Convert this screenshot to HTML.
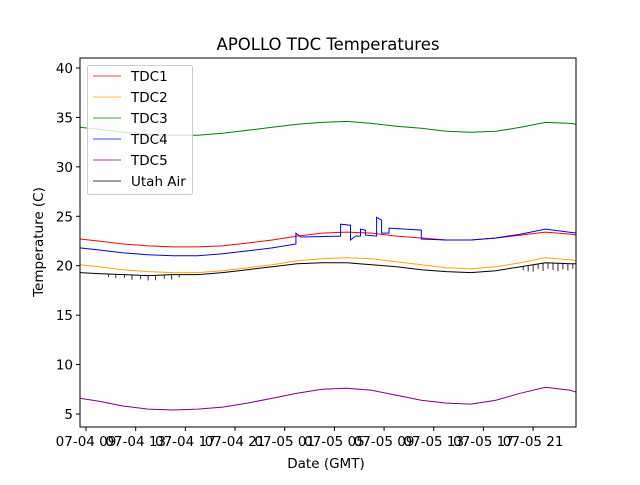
<!DOCTYPE html>
<html><head><meta charset="utf-8"><style>
body{margin:0;background:#fff}
svg text{font-family:"DejaVu Sans","Liberation Sans",sans-serif;fill:#000}
</style></head><body>
<svg id="chart" width="640" height="480" xmlns="http://www.w3.org/2000/svg">
<rect width="640" height="480" fill="#fff"/>
<text x="328" y="50" font-size="16.5" text-anchor="middle">APOLLO TDC Temperatures</text>
<g id="plot"></g>
<text x="326" y="468" font-size="13.5" text-anchor="middle">Date (GMT)</text>
<text transform="translate(43,242) rotate(-90)" font-size="13.5" text-anchor="middle">Temperature (C)</text>
</svg>
<script>
const hours=[-0.5,1,3,5,7,9,11,13,15,17,19,21,23,25,27,29,31,33,35,37,39,39.5];
const tdc1=[22.7,22.5,22.2,22.0,21.9,21.9,22.0,22.3,22.6,23.0,23.3,23.4,23.3,23.0,22.8,22.6,22.6,22.8,23.1,23.4,23.2,23.1];
const tdc2=[20.1,19.9,19.6,19.4,19.3,19.3,19.5,19.8,20.1,20.5,20.7,20.8,20.7,20.4,20.1,19.8,19.7,19.9,20.3,20.8,20.6,20.5];
const tdc3=[34.0,33.8,33.5,33.3,33.2,33.2,33.4,33.7,34.0,34.3,34.5,34.6,34.4,34.1,33.9,33.6,33.5,33.6,34.0,34.5,34.4,34.3];
const tdc5=[6.6,6.3,5.8,5.5,5.4,5.5,5.7,6.1,6.6,7.1,7.5,7.6,7.4,6.9,6.4,6.1,6.0,6.4,7.1,7.7,7.4,7.2];
const utahAir=[19.3,19.2,19.1,19.0,19.1,19.1,19.3,19.6,19.9,20.2,20.3,20.3,20.1,19.9,19.6,19.4,19.3,19.5,19.9,20.3,20.2,20.2];
const tdc4Hours=[-0.5,1,3,5,7,9,11,13,15,16.9,16.9,17.3,20.5,20.5,21.3,21.3,21.7,22.1,22.1,22.5,22.5,23.4,23.4,23.8,23.8,24.4,24.4,27,27,29,31,33,35,37,39.5];
const tdc4=[21.8,21.6,21.3,21.1,21.0,21.0,21.2,21.5,21.8,22.2,23.3,22.9,23.0,24.2,24.1,22.6,23.0,23.0,23.7,23.6,23.1,23.0,24.9,24.6,23.3,23.3,23.8,23.6,22.7,22.6,22.6,22.8,23.2,23.7,23.3];
const spikeHours=[1.8,2.4,3.1,3.7,4.4,5.0,5.6,6.3,6.9,7.5,35.2,35.6,36.0,36.4,36.8,37.2,37.6,38.0,38.4,38.8,39.2];
const spikeDepth=[0.3,0.4,0.3,0.5,0.4,0.5,0.5,0.4,0.5,0.3,0.4,0.6,0.7,0.5,0.8,0.6,0.7,0.8,0.6,0.7,0.5];
const yTicks=[5,10,15,20,25,30,35,40];
const xTickHours=[0,4,8,12,16,20,24,28,32,36];
const xTickLabels=["07-04 09","07-04 13","07-04 17","07-04 21","07-05 01","07-05 05","07-05 09","07-05 13","07-05 17","07-05 21"];
const L=80,R=576,T=58,B=427;
const xs=h=>86+h*12.42;
const ys=v=>414-(v-5)*9.886;
const NS="http://www.w3.org/2000/svg";
const g=document.getElementById('plot');
function mk(t,a){const e=document.createElementNS(NS,t);for(const k in a)e.setAttribute(k,a[k]);g.appendChild(e);return e;}
function series(hs,vs,color,name){
  const d=hs.map((h,i)=>(i?'L':'M')+xs(h).toFixed(1)+','+ys(vs[i]).toFixed(1)).join('');
  const p=mk('path',{d:d,fill:'none',stroke:color,'stroke-width':1});
  
  
}
series(hours,tdc3,'#008000','tdc3-line');
series(hours,tdc1,'#ff0000','tdc1-line');
series(tdc4Hours,tdc4,'#0000ff','tdc4-line');
series(hours,tdc2,'#ffa500','tdc2-line');
series(hours,utahAir,'#000000','utah-air-line');
series(hours,tdc5,'#800080','tdc5-line');
function interp(h){for(let i=1;i<hours.length;i++){if(h<=hours[i]){const t=(h-hours[i-1])/(hours[i]-hours[i-1]);return utahAir[i-1]+t*(utahAir[i]-utahAir[i-1]);}}return utahAir[utahAir.length-1];}
spikeHours.forEach((h,i)=>{const v=interp(h);
  const s=mk('line',{x1:xs(h),x2:xs(h),y1:ys(v),y2:ys(v-spikeDepth[i]),stroke:'#000','stroke-width':0.8});
  
  });
const frame=mk('rect',{x:L,y:T,width:R-L,height:B-T,fill:'none',stroke:'#000','stroke-width':1});


yTicks.forEach(v=>{const y=ys(v);
  mk('line',{x1:L-4,x2:L,y1:y,y2:y,stroke:'#000'});
  const t=mk('text',{x:L-7,y:y+5,'font-size':13.5,'text-anchor':'end'});t.textContent=v;
  
  });
xTickHours.forEach((h,i)=>{const x=xs(h);
  mk('line',{x1:x,x2:x,y1:B,y2:B+4,stroke:'#000'});
  const t=mk('text',{x:x,y:B+19,'font-size':13.5,'text-anchor':'middle'});t.textContent=xTickLabels[i];
  
  });
const lg=mk('rect',{x:87.5,y:65.5,width:105,height:129,fill:'#fff','fill-opacity':0.8,stroke:'#ccc',rx:2});


const names=["TDC1","TDC2","TDC3","TDC4","TDC5","Utah Air"];
const cols=["#ff0000","#ffa500","#008000","#0000ff","#800080","#000000"];
names.forEach((n,i)=>{const y=76+i*21;
  mk('line',{x1:93,x2:121,y1:y,y2:y,stroke:cols[i],'stroke-width':0.8});
  const t=mk('text',{x:131,y:y+5,'font-size':13.5});t.textContent=n;
  
  });
</script>
</body></html>
